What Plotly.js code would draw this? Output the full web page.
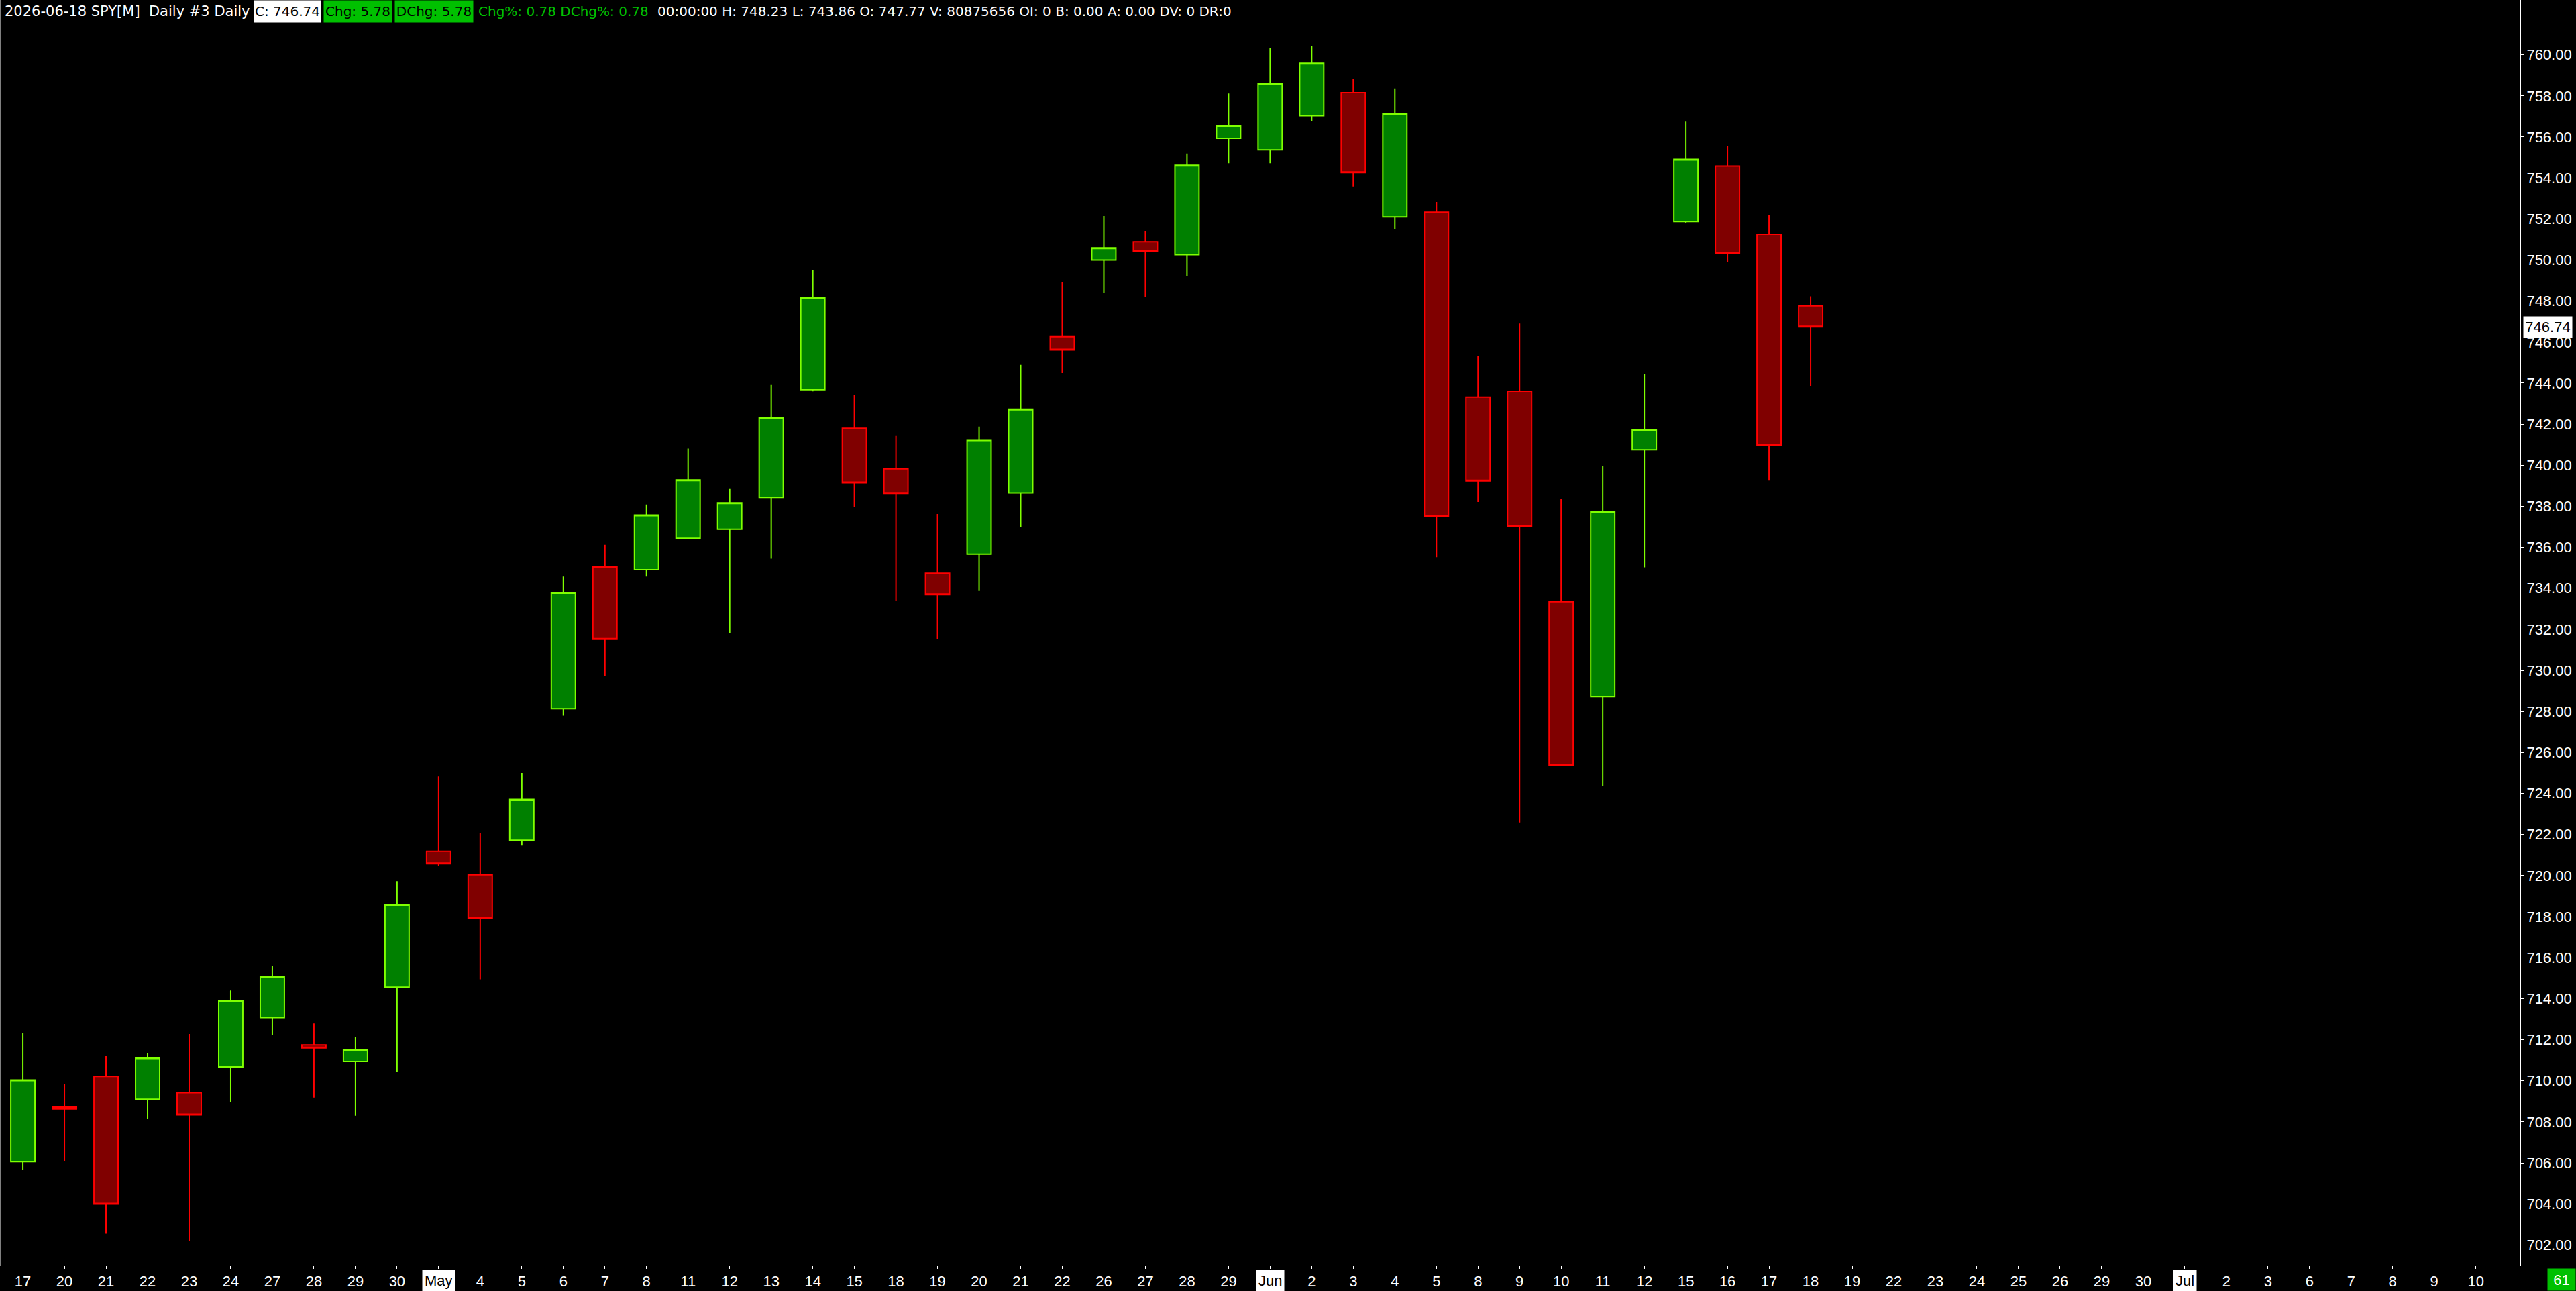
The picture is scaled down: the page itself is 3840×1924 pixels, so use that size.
<!DOCTYPE html>
<html><head><meta charset="utf-8">
<script src="https://cdn.plot.ly/plotly-3.0.1.min.js"></script>
<style>html,body{margin:0;padding:0;background:#000;overflow:hidden}#chart{width:3840px;height:1924px}</style>
</head><body><div id="chart"></div>
<script>
// ---------- data ----------
const allDates = [
 "2026-04-17","2026-04-20","2026-04-21","2026-04-22","2026-04-23","2026-04-24","2026-04-27","2026-04-28","2026-04-29","2026-04-30",
 "2026-05-01","2026-05-04","2026-05-05","2026-05-06","2026-05-07","2026-05-08","2026-05-11","2026-05-12","2026-05-13","2026-05-14",
 "2026-05-15","2026-05-18","2026-05-19","2026-05-20","2026-05-21","2026-05-22","2026-05-26","2026-05-27","2026-05-28","2026-05-29",
 "2026-06-01","2026-06-02","2026-06-03","2026-06-04","2026-06-05","2026-06-08","2026-06-09","2026-06-10","2026-06-11","2026-06-12",
 "2026-06-15","2026-06-16","2026-06-17","2026-06-18","2026-06-19","2026-06-22","2026-06-23","2026-06-24","2026-06-25","2026-06-26",
 "2026-06-29","2026-06-30","2026-07-01","2026-07-02","2026-07-03","2026-07-06","2026-07-07","2026-07-08","2026-07-09","2026-07-10"
];
const tickLabels = [
 "17","20","21","22","23","24","27","28","29","30",
 "May","4","5","6","7","8","11","12","13","14",
 "15","18","19","20","21","22","26","27","28","29",
 "Jun","2","3","4","5","8","9","10","11","12",
 "15","16","17","18","19","22","23","24","25","26",
 "29","30","Jul","2","3","6","7","8","9","10"
];
const monthLabels = ["May","Jun","Jul"];
const priceTicks = [702,704,706,708,710,712,714,716,718,720,722,724,726,728,730,
 732,734,736,738,740,742,744,746,748,750,752,754,756,758,760];

const opens = [706.06,708.72,710.21,709.10,709.42,710.68,713.08,711.75,710.94,714.56,
 721.18,720.04,721.72,728.13,735.04,734.91,736.44,736.88,738.43,743.68,
 741.80,739.82,734.74,735.67,738.65,746.26,750.00,750.89,750.26,755.93,
 755.37,757.03,758.16,752.10,752.33,743.32,743.61,733.35,728.72,740.75,
 751.87,754.58,751.26,747.77];
const highs = [712.31,709.83,711.20,711.36,712.28,714.40,715.59,712.80,712.13,719.73,
 724.83,722.06,725.00,734.57,736.13,738.09,740.81,738.84,743.91,749.52,
 743.44,741.42,737.62,741.88,744.89,748.93,752.14,751.39,755.19,758.12,
 760.32,760.44,758.84,758.36,752.83,745.34,746.90,738.37,739.98,744.42,
 756.74,755.54,752.18,748.23];
const lows = [705.68,706.08,702.55,708.14,702.19,708.95,712.22,709.18,708.30,710.42,
 720.46,714.95,721.46,727.80,729.74,734.57,736.40,731.83,735.45,743.60,
 737.95,733.40,731.51,733.87,737.00,744.49,748.40,748.22,749.23,754.72,
 754.72,756.78,753.59,751.49,735.52,738.21,722.59,725.34,724.36,735.02,
 751.81,749.89,739.25,743.86];
const closes = [710.04,708.63,703.99,711.12,708.34,713.89,715.08,711.60,711.51,718.59,
 720.58,717.92,723.71,733.80,731.52,737.57,739.28,738.17,742.31,748.18,
 739.14,738.63,733.69,741.24,742.73,745.62,750.60,750.44,754.62,756.52,
 758.58,759.59,754.26,757.11,737.52,739.23,737.02,725.38,737.75,741.73,
 754.90,750.33,740.96,746.74];

const symbol = "SPY[M]";
const barSpec = "Daily #3 Daily";
const lastTime = "00:00:00";
const volume = "80875656";
const extraFields = "OI: 0 B: 0.00 A: 0.00 DV: 0 DR:0";
const barCountLabel = "61";

// ---------- geometry ----------
const W = 3757, H = 1886;  // plot area size in px
const px = v => v / W;
const py = v => 1 - v / H;

const n = closes.length;
const candleDates = allDates.slice(0, n);
const last = n - 1;
const chg = closes[last] - closes[last - 1];
const chgPct = chg / closes[last - 1] * 100;

const FONT = "DejaVu Sans";
const AXFONT = "Liberation Sans";
const GREEN_BOX = "#00C000";

const trace = {
  type: "candlestick",
  x: candleDates, open: opens, high: highs, low: lows, close: closes,
  increasing: {line: {color: "#7FFF00", width: 2}, fillcolor: "#008000"},
  decreasing: {line: {color: "#FF0000", width: 2}, fillcolor: "#800000"},
  whiskerwidth: 0,
  hoverinfo: "skip",
  showlegend: false
};

const annotations = [];
// header
const hdrBase = {xref: "paper", yref: "paper", y: 1, yanchor: "top", xanchor: "left",
  showarrow: false, borderpad: 0, height: 32, font: {family: FONT, size: 20, color: "#FFFFFF"}};
annotations.push(Object.assign({}, hdrBase, {x: px(6), font: {family: FONT, size: 21, color: "#FFFFFF"},
  text: candleDates[last] + " " + symbol + " \u00a0" + barSpec}));
annotations.push(Object.assign({}, hdrBase, {x: px(378), width: 99, align: "center", bgcolor: "#FFFFFF",
  font: {family: FONT, size: 20, color: "#000000"}, text: "C: " + closes[last].toFixed(2)}));
annotations.push(Object.assign({}, hdrBase, {x: px(482), width: 101, align: "center", bgcolor: GREEN_BOX,
  font: {family: FONT, size: 20, color: "#000000"}, text: "Chg: " + chg.toFixed(2)}));
annotations.push(Object.assign({}, hdrBase, {x: px(588), width: 116, align: "center", bgcolor: GREEN_BOX,
  font: {family: FONT, size: 20, color: "#000000"}, text: "DChg: " + chg.toFixed(2)}));
annotations.push(Object.assign({}, hdrBase, {x: px(712), font: {family: FONT, size: 20, color: GREEN_BOX},
  text: "Chg%: " + chgPct.toFixed(2) + " DChg%: " + chgPct.toFixed(2)}));
annotations.push(Object.assign({}, hdrBase, {x: px(979),
  text: lastTime + " H: " + highs[last].toFixed(2) + " L: " + lows[last].toFixed(2) + " O: " + opens[last].toFixed(2) +
        " V: " + volume + " " + extraFields}));

// month boxes on x axis
allDates.forEach((d, i) => {
  if (monthLabels.indexOf(tickLabels[i]) >= 0) {
    annotations.push({xref: "x", yref: "paper", x: d, y: py(1908), xanchor: "center", yanchor: "middle",
      text: tickLabels[i], showarrow: false, bgcolor: "#FFFFFF", borderpad: 3, height: 25,
      font: {family: AXFONT, size: 22, color: "#000000"}});
  }
});
// last price box
annotations.push({xref: "paper", yref: "y", x: px(3761), y: closes[last], xanchor: "left", yanchor: "middle",
  text: closes[last].toFixed(2), showarrow: false, bgcolor: "#FFFFFF", borderpad: 0, width: 72, height: 31,
  align: "center", font: {family: AXFONT, size: 22, color: "#000000"}});
// bar count box
annotations.push({xref: "paper", yref: "paper", x: px(3818.5), y: py(1907), xanchor: "center", yanchor: "middle",
  text: barCountLabel, showarrow: false, bgcolor: GREEN_BOX, borderpad: 0, width: 41, height: 32,
  align: "center", font: {family: AXFONT, size: 22, color: "#FFFFFF"}});

const layout = {
  width: 3840, height: 1924,
  paper_bgcolor: "#000000", plot_bgcolor: "#000000",
  margin: {l: 0, r: 3840 - W, t: 0, b: 1924 - H, pad: 0},
  showlegend: false,
  boxgap: 0.42, boxgroupgap: 0,
  xaxis: {
    type: "category", categoryorder: "array", categoryarray: allDates,
    range: [-0.55, 60.07],
    tickmode: "array", tickvals: allDates,
    ticktext: tickLabels.map(t => monthLabels.indexOf(t) >= 0 ? "" : t),
    ticks: "outside", ticklen: 4, tickcolor: "#FFFFFF", tickwidth: 1,
    showline: true, linecolor: "#FFFFFF", linewidth: 1,
    showgrid: false, zeroline: false,
    rangeslider: {visible: false},
    tickfont: {family: AXFONT, size: 22, color: "#FFFFFF"}
  },
  yaxis: {
    side: "right", range: [701.0, 762.67],
    tickmode: "array", tickvals: priceTicks, ticktext: priceTicks.map(v => v.toFixed(2)),
    ticks: "outside", ticklen: 4, tickcolor: "#FFFFFF", tickwidth: 1,
    showline: true, linecolor: "#FFFFFF", linewidth: 1,
    showgrid: false, zeroline: false,
    tickfont: {family: AXFONT, size: 22, color: "#FFFFFF"}
  },
  shapes: [{type: "line", xref: "paper", yref: "paper", x0: 0, x1: 0, y0: 0, y1: 1,
    line: {color: "#FFFFFF", width: 1}}],
  annotations: annotations
};

Plotly.newPlot("chart", [trace], layout, {staticPlot: true, displayModeBar: false});
</script>
</body></html>
